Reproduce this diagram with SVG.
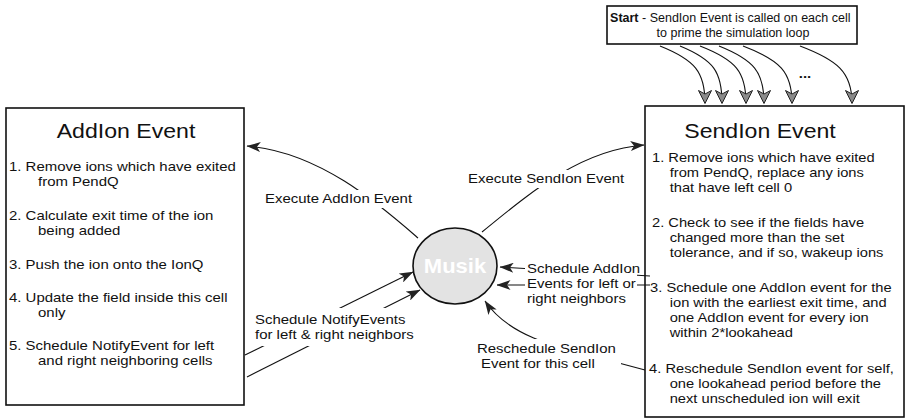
<svg xmlns="http://www.w3.org/2000/svg" width="907" height="420" viewBox="0 0 907 420">
<defs>
<style>
.t{font-family:"Liberation Sans",Arial,Helvetica,sans-serif;font-size:13.6px;fill:#111}
.title{font-size:21px}
.small{font-size:12.5px}
.musik{font-family:"Liberation Sans",Arial,Helvetica,sans-serif;font-size:20px;font-weight:bold;fill:#fff}
.box{fill:#fff;stroke:#111;stroke-width:1.6}
.conn{fill:none;stroke:#111;stroke-width:1.1}
.lbg{fill:#fff}
</style>
<marker id="ah" markerUnits="userSpaceOnUse" viewBox="0 0 14 10" markerWidth="14" markerHeight="10" refX="13.5" refY="5" orient="auto">
<path d="M0,0 L14,5 L0,10 L3.5,5 Z" fill="#222"/>
</marker>
<marker id="gh" markerUnits="userSpaceOnUse" viewBox="-1 -1 15 15" markerWidth="15" markerHeight="15" refX="12.5" refY="6.5" orient="auto">
<path d="M0,0 L13,6.5 L0,13 L3.5,6.5 Z" fill="#8a8a8a" stroke="#222" stroke-width="1"/>
</marker>
</defs>

<g id="start">
<rect class="box" x="607" y="6" width="250" height="38"/>
<text class="t small" text-anchor="middle">
<tspan x="732" y="22"><tspan font-weight="bold">Start</tspan> - SendIon Event is called on each cell</tspan>
<tspan x="733" y="37">to prime the simulation loop</tspan>
</text>
</g>

<g id="addion">
<rect class="box" x="6" y="108" width="238" height="297"/>
<text class="t title" transform="translate(126,0) scale(1.1,1)" text-anchor="middle" x="0" y="138">AddIon Event</text>
<text class="t" transform="translate(9,0) scale(1.1,1)">
<tspan x="0" y="171">1. Remove ions which have exited</tspan>
<tspan x="26.4" y="186">from PendQ</tspan>
<tspan x="0" y="220">2. Calculate exit time of the ion</tspan>
<tspan x="26.4" y="235">being added</tspan>
<tspan x="0" y="269">3. Push the ion onto the IonQ</tspan>
<tspan x="0" y="302">4. Update the field inside this cell</tspan>
<tspan x="26.4" y="317">only</tspan>
<tspan x="0" y="350">5. Schedule NotifyEvent for left</tspan>
<tspan x="26.4" y="365">and right neighboring cells</tspan>
</text>
</g>

<g id="sendion">
<rect class="box" x="645" y="106" width="259" height="311"/>
<text class="t title" transform="translate(760,0) scale(1.1,1)" text-anchor="middle" x="0" y="138">SendIon Event</text>
<text class="t" transform="translate(652,0) scale(1.08,1)">
<tspan x="0" y="162">1. Remove ions which have exited</tspan>
<tspan x="16.4" y="177">from PendQ, replace any ions</tspan>
<tspan x="16.4" y="192">that have left cell 0</tspan>
<tspan x="0" y="227">2. Check to see if the fields have</tspan>
<tspan x="16.4" y="242">changed more than the set</tspan>
<tspan x="16.4" y="257">tolerance, and if so, wakeup ions</tspan>
<tspan x="-1.8" y="292">3. Schedule one AddIon event for the</tspan>
<tspan x="16.4" y="307">ion with the earliest exit time, and</tspan>
<tspan x="16.4" y="322">one AddIon event for every ion</tspan>
<tspan x="16.4" y="337">within 2*lookahead</tspan>
<tspan x="-2.7" y="373">4. Reschedule SendIon event for self,</tspan>
<tspan x="16.4" y="388">one lookahead period before the</tspan>
<tspan x="16.4" y="403">next unscheduled ion will exit</tspan>
</text>
</g>

<g id="connectors">
<path class="conn" d="M418,238 C380,205 320,152 247,146" marker-end="url(#ah)"/>
<path class="conn" d="M482,232 C530,193 580,150 644,145" marker-end="url(#ah)"/>
<path class="conn" d="M245,355 L413,272" marker-end="url(#ah)"/>
<path class="conn" d="M247,377 L420,290" marker-end="url(#ah)"/>
<path class="conn" d="M650,276 L500,267" marker-end="url(#ah)"/>
<path class="conn" d="M650,285 L497,285" marker-end="url(#ah)"/>
<path class="conn" d="M645,370 L615,362 C560,348 510,338 485,301" marker-end="url(#ah)"/>
<path class="conn" d="M660,46 C695,60 705,72 705,103" marker-end="url(#gh)"/>
<path class="conn" d="M680,46 C714,60 722,72 722,103" marker-end="url(#gh)"/>
<path class="conn" d="M700,46 C736,60 746,72 746,103" marker-end="url(#gh)"/>
<path class="conn" d="M719,46 C754,60 764,72 764,103" marker-end="url(#gh)"/>
<path class="conn" d="M743,46 C780,60 792,72 792,103" marker-end="url(#gh)"/>
<path class="conn" d="M800,46 C837,60 852,72 852,103" marker-end="url(#gh)"/>
</g>

<g id="labels">
<rect class="lbg" x="262" y="190" width="154" height="18"/>
<text class="t" transform="translate(265,0) scale(1.1,1)" x="0" y="203">Execute AddIon Event</text>
<rect class="lbg" x="465" y="170" width="163" height="18"/>
<text class="t" transform="translate(468,0) scale(1.1,1)" x="0" y="183">Execute SendIon Event</text>
<rect class="lbg" x="251" y="308" width="168" height="38"/>
<text class="t" transform="translate(255,0) scale(1.1,1)">
<tspan x="0" y="324">Schedule NotifyEvents</tspan>
<tspan x="0" y="339">for left &amp; right neighbors</tspan>
</text>
<rect class="lbg" x="525" y="261" width="112" height="46"/>
<text class="t" transform="translate(527,0) scale(1.1,1)">
<tspan x="0" y="273">Schedule AddIon</tspan>
<tspan x="0" y="288">Events for left or</tspan>
<tspan x="0" y="303">right neighbors</tspan>
</text>
<rect class="lbg" x="474" y="339" width="147" height="33"/>
<text class="t" transform="translate(477,0) scale(1.1,1)">
<tspan x="0" y="353">Reschedule SendIon</tspan>
<tspan x="3.6" y="368">Event for this cell</tspan>
</text>
<text class="t" font-weight="bold" font-size="20" transform="translate(805,0) scale(1.1,1)" text-anchor="middle" x="0" y="78">...</text>
</g>

<g id="musik">
<ellipse cx="455" cy="266" rx="42" ry="38" fill="#e3e3e3" stroke="#111" stroke-width="1.6"/>
<text class="musik" transform="translate(455,0) scale(1.1,1)" text-anchor="middle" x="0" y="273">Musik</text>
</g>
</svg>
